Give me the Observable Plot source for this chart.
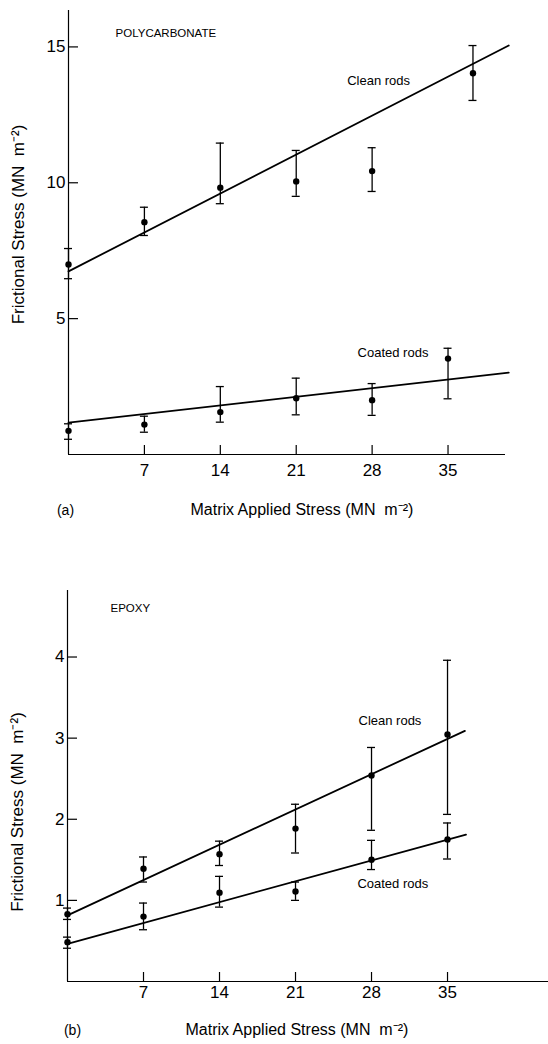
<!DOCTYPE html>
<html><head><meta charset="utf-8">
<script src="https://cdn.jsdelivr.net/npm/d3@7"></script>
<script src="https://cdn.jsdelivr.net/npm/@observablehq/plot@0.6"></script>
<style>
body{margin:0;background:#fff}
#wrap{position:relative;width:548px;height:1044px;overflow:hidden}
#a,#b{position:absolute;left:0}
#a{top:0}#b{top:522px}
</style></head><body><div id="wrap"><div id="a"></div><div id="b"></div></div>
<script>
// ---------- data (a) polycarbonate ----------
const xTicks = [7, 14, 21, 28, 35];
const pcYTicks = [5, 10, 15];
const pcCleanX = [0, 7, 14, 21, 28, 37.3];
const pcCleanY = [6.99, 8.55, 9.82, 10.05, 10.43, 14.03];
const pcCleanHi = [7.58, 9.10, 11.46, 11.19, 11.29, 15.05];
const pcCleanLo = [6.47, 8.06, 9.23, 9.50, 9.68, 13.03];
const pcCoatX = [0, 7, 14, 21, 28, 35];
const pcCoatY = [0.87, 1.10, 1.56, 2.07, 2.00, 3.53];
const pcCoatHi = [1.13, 1.41, 2.50, 2.81, 2.61, 3.91];
const pcCoatLo = [0.56, 0.82, 1.19, 1.46, 1.44, 2.05];
const pcCleanFitX = [0, 40.6];
const pcCleanFitY = [6.74, 15.05];
const pcCoatFitX = [0, 40.6];
const pcCoatFitY = [1.17, 3.01];

// ---------- data (b) epoxy ----------
const epYTicks = [1, 2, 3, 4];
const epCleanX = [0, 7, 14, 21, 28, 35];
const epCleanY = [0.83, 1.39, 1.57, 1.885, 2.54, 3.045];
const epCleanHi = [0.905, 1.535, 1.73, 2.185, 2.885, 3.96];
const epCleanLo = [0.765, 1.226, 1.43, 1.584, 1.864, 2.06];
const epCoatX = [0, 7, 14, 21, 28, 35];
const epCoatY = [0.485, 0.80, 1.095, 1.11, 1.50, 1.75];
const epCoatHi = [0.547, 0.967, 1.296, 1.226, 1.74, 1.954];
const epCoatLo = [0.41, 0.638, 0.917, 1.0, 1.38, 1.51];
const epCleanFitX = [0, 36.6];
const epCleanFitY = [0.815, 3.09];
const epCoatFitX = [0, 36.7];
const epCoatFitY = [0.465, 1.811];

const xTitle = "Matrix Applied Stress (MN  m\u207B\u00B2)";
const yTitle = "Frictional Stress (MN  m\u207B\u00B2)";

const FONT = '"Liberation Sans",Arial,sans-serif';

const rows = (X, Y, Hi, Lo) => X.map((x, i) => ({x, y: Y[i], hi: Hi[i], lo: Lo[i]}));
const pts = (X, Y) => X.map((x, i) => ({x, y: Y[i]}));

function series(data) {
  return [
    Plot.ruleX(data, {x: "x", y1: "lo", y2: "hi", stroke: "black", strokeWidth: 1.3}),
    Plot.ruleY(data, {x1: "x", x2: "x", y: "hi", insetLeft: -4, insetRight: -4, stroke: "black", strokeWidth: 1.3}),
    Plot.ruleY(data, {x1: "x", x2: "x", y: "lo", insetLeft: -4, insetRight: -4, stroke: "black", strokeWidth: 1.3}),
    Plot.dot(data, {x: "x", y: "y", r: 3.2, fill: "black", stroke: "none"})
  ];
}

function panel(cfg) {
  return Plot.plot({
    width: 548, height: 522,
    marginLeft: cfg.ml, marginRight: cfg.mr, marginTop: cfg.mt, marginBottom: cfg.mb,
    style: {fontFamily: FONT, background: "white", color: "black", overflow: "visible"},
    x: {domain: cfg.xd},
    y: {domain: cfg.yd},
    marks: [
      Plot.ruleX([0], {stroke: "black", strokeWidth: 1.2}),
      Plot.ruleY([0], {stroke: "black", strokeWidth: 1.2}),
      Plot.axisX({ticks: xTicks, tickSize: 9, dy: -9, tickFormat: () => "", label: null, strokeWidth: 1.2}),
      Plot.axisX({ticks: xTicks, tickSize: 0, tickPadding: cfg.xpad, tickFormat: d => String(d), fontSize: 17, label: null}),
      Plot.axisY({ticks: cfg.yticks, tickSize: 10, dx: 10, tickFormat: () => "", label: null, strokeWidth: 1.2}),
      Plot.axisY({ticks: cfg.yticks, tickSize: 0, tickPadding: 3, tickFormat: d => String(d), fontSize: 17, label: null}),
      Plot.line(pts(cfg.cleanFit[0], cfg.cleanFit[1]), {x: "x", y: "y", stroke: "black", strokeWidth: 1.8}),
      Plot.line(pts(cfg.coatFit[0], cfg.coatFit[1]), {x: "x", y: "y", stroke: "black", strokeWidth: 1.8}),
      ...series(cfg.clean),
      ...series(cfg.coat),
      Plot.text([cfg.name], {x: cfg.namePos[0], y: cfg.namePos[1], text: d => d, textAnchor: "start", fontSize: 11.5}),
      Plot.text(["Clean rods"], {x: cfg.cleanPos[0], y: cfg.cleanPos[1], text: d => d, textAnchor: "start", fontSize: 13, wordSpacing: 3}),
      Plot.text(["Coated rods"], {x: cfg.coatPos[0], y: cfg.coatPos[1], text: d => d, textAnchor: "start", fontSize: 13, wordSpacing: 3}),
      Plot.text([cfg.tag], {frameAnchor: "bottom-left", text: d => d, dx: cfg.tagDx, dy: cfg.titleDy, textAnchor: "middle", fontSize: 14}),
      Plot.text([xTitle], {frameAnchor: "bottom-left", text: d => d, dx: cfg.titleDx, dy: cfg.titleDy, textAnchor: "start", fontSize: 16}),
      Plot.text([yTitle], {frameAnchor: "left", text: d => d, dx: -50, dy: cfg.yTitleDy, rotate: -90, textAnchor: "middle", fontSize: 17})
    ]
  });
}

document.getElementById("a").append(panel({
  ml: 68, mr: 43, mt: 10, mb: 68, xd: [0, 40.3], yd: [0, 16.34], xpad: 9,
  yticks: pcYTicks,
  clean: rows(pcCleanX, pcCleanY, pcCleanHi, pcCleanLo),
  coat: rows(pcCoatX, pcCoatY, pcCoatHi, pcCoatLo),
  cleanFit: [pcCleanFitX, pcCleanFitY], coatFit: [pcCoatFitX, pcCoatFitY],
  name: "POLYCARBONATE", namePos: [4.34, 15.5],
  cleanPos: [25.7, 13.77], coatPos: [26.66, 3.73],
  tag: "(a)", tagDx: -3, titleDx: 122, titleDy: 60, yTitleDy: -8
}));

document.getElementById("b").append(panel({
  ml: 67, mr: 0, mt: 68, mb: 63, xd: [0, 44.3], yd: [0, 4.82], xpad: 4,
  yticks: epYTicks,
  clean: rows(epCleanX, epCleanY, epCleanHi, epCleanLo),
  coat: rows(epCoatX, epCoatY, epCoatHi, epCoatLo),
  cleanFit: [epCleanFitX, epCleanFitY], coatFit: [epCoatFitX, epCoatFitY],
  name: "EPOXY", namePos: [3.96, 4.6],
  cleanPos: [26.8, 3.21], coatPos: [26.7, 1.2],
  tag: "(b)", tagDx: 5, titleDx: 118, titleDy: 53, yTitleDy: 26
}));
</script></body></html>
